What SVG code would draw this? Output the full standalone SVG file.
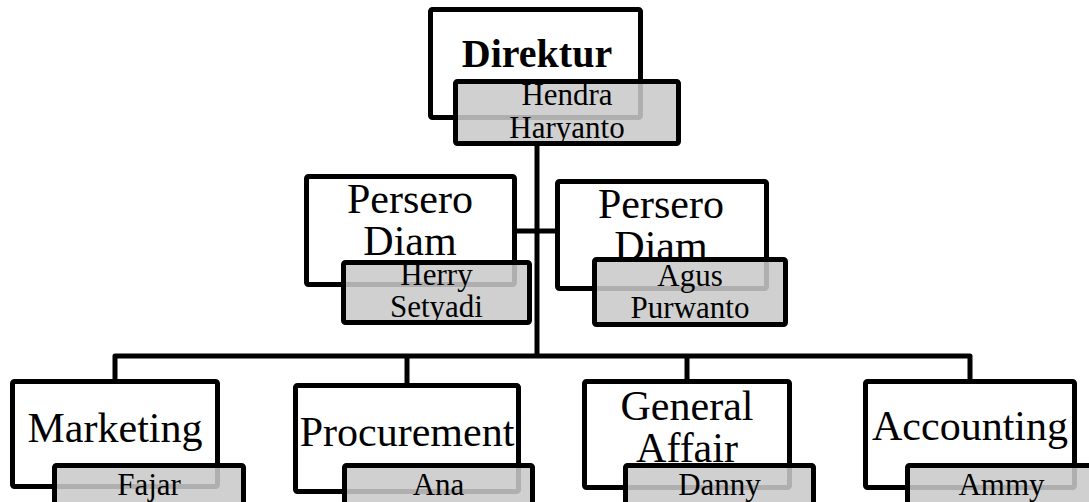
<svg xmlns="http://www.w3.org/2000/svg" width="1089" height="502" viewBox="0 0 1089 502">
  <style>
    .box { fill: #ffffff; stroke: #000000; stroke-width: 5; stroke-linejoin: round; }
    .tag { fill: #c9c9c9; fill-opacity: 0.87; stroke: #000000; stroke-width: 5; stroke-linejoin: round; }
    .wire { fill: none; stroke: #000000; stroke-width: 5; stroke-linejoin: round; }
    .title { font-family: "Liberation Serif", "Times New Roman", serif; font-size: 42px; fill: #000000; text-anchor: middle; }
    .head { font-family: "Liberation Serif", "Times New Roman", serif; font-size: 40px; font-weight: bold; fill: #000000; text-anchor: middle; }
    .name { font-family: "Liberation Serif", "Times New Roman", serif; font-size: 31px; fill: #000000; text-anchor: middle; }
  </style>

  <!-- connectors -->
  <g id="connectors">
    <path class="wire" d="M537 144 V358"/>
    <path class="wire" d="M514 231 H558"/>
    <path class="wire" d="M115 382 V356 H970 V382"/>
    <path class="wire" d="M407 356 V386"/>
    <path class="wire" d="M687 356 V382"/>
  </g>

  <!-- top level -->
  <g id="direktur">
    <rect class="box" x="430.5" y="9.5" width="210" height="108" rx="2"/>
    <text class="head" x="537" y="67">Direktur</text>
    <rect class="tag" x="455.5" y="81.5" width="223" height="62" rx="2"/>
    <text class="name" x="567" y="105">Hendra</text>
    <text class="name" x="567" y="138">Haryanto</text>
  </g>

  <!-- second level -->
  <g id="persero-diam-1">
    <rect class="box" x="306.5" y="176.5" width="208" height="108" rx="2"/>
    <text class="title" x="410" y="213">Persero</text>
    <text class="title" x="410" y="255">Diam</text>
    <rect class="tag" x="343.5" y="262.5" width="186" height="60" rx="2"/>
    <text class="name" x="436.5" y="285">Herry</text>
    <text class="name" x="436.5" y="317">Setyadi</text>
  </g>

  <g id="persero-diam-2">
    <rect class="box" x="557.5" y="181.5" width="209" height="107" rx="2"/>
    <text class="title" x="661" y="218">Persero</text>
    <text class="title" x="661" y="260">Diam</text>
    <rect class="tag" x="594.5" y="259.5" width="191" height="65" rx="2"/>
    <text class="name" x="690" y="286">Agus</text>
    <text class="name" x="690" y="318">Purwanto</text>
  </g>

  <!-- third level -->
  <g id="marketing">
    <rect class="box" x="12.5" y="381.5" width="205" height="105" rx="2"/>
    <text class="title" x="115" y="442">Marketing</text>
    <rect class="tag" x="54.5" y="465.5" width="189" height="62" rx="2"/>
    <text class="name" x="149" y="495">Fajar</text>
  </g>

  <g id="procurement">
    <rect class="box" x="295.5" y="385.5" width="223" height="106" rx="2"/>
    <text class="title" x="407" y="446">Procurement</text>
    <rect class="tag" x="344.5" y="465.5" width="188" height="62" rx="2"/>
    <text class="name" x="438.5" y="495">Ana</text>
  </g>

  <g id="general-affair">
    <rect class="box" x="584.5" y="381.5" width="205" height="106" rx="2"/>
    <text class="title" x="687" y="420">General</text>
    <text class="title" x="687" y="462">Affair</text>
    <rect class="tag" x="625.5" y="465.5" width="188" height="62" rx="2"/>
    <text class="name" x="719.5" y="495">Danny</text>
  </g>

  <g id="accounting">
    <rect class="box" x="865.5" y="381.5" width="209" height="106" rx="2"/>
    <text class="title" x="970" y="440">Accounting</text>
    <rect class="tag" x="907.5" y="465.5" width="188" height="62" rx="2"/>
    <text class="name" x="1001.5" y="495">Ammy</text>
  </g>
</svg>
